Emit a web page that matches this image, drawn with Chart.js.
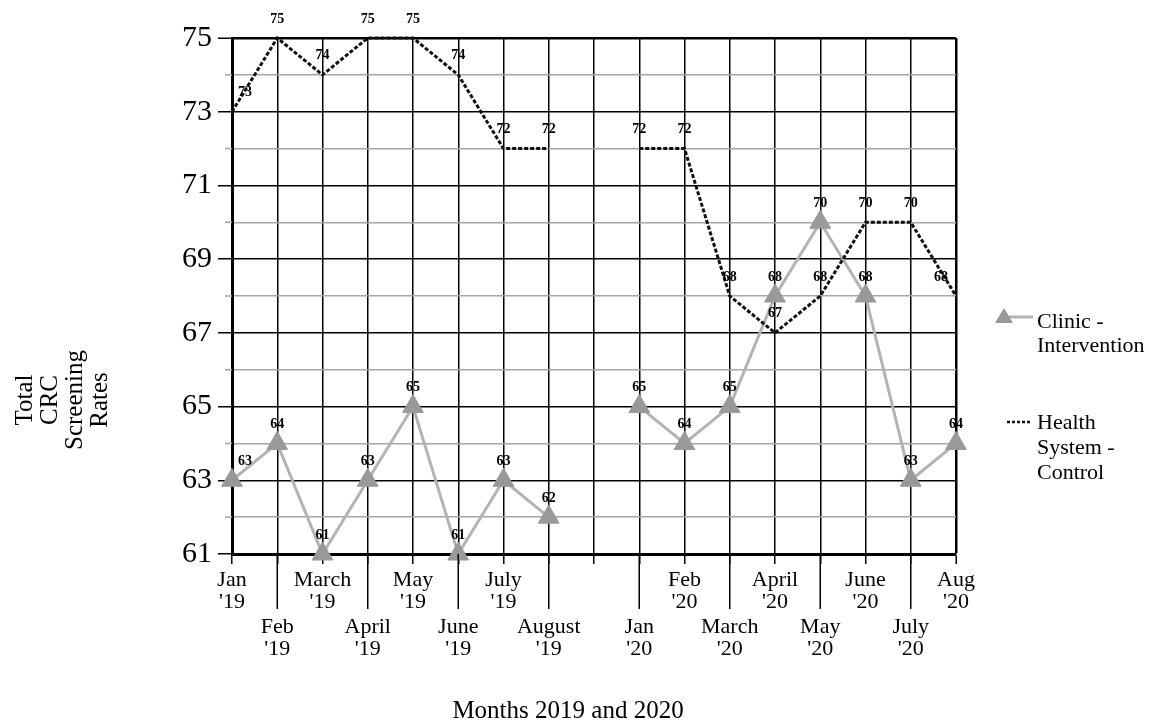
<!DOCTYPE html>
<html>
<head>
<meta charset="utf-8">
<script src="https://cdn.jsdelivr.net/npm/chart.js@4.4.1/dist/chart.umd.min.js"></script>
<style>
body{margin:0;background:#fff;}
#box{width:1149px;height:721px;}
</style>
</head>
<body>
<div id="box"><canvas id="chart" width="1149" height="721"></canvas></div>
<script>
// data
const months = ['Jan','Feb','March','April','May','June','July','August','','Jan','Feb','March','April','May','June','July','Aug'];
const years = ["'19","'19","'19","'19","'19","'19","'19","'19",'',"'20","'20","'20","'20","'20","'20","'20","'20"];
const clinic = [63,64,61,63,65,61,63,62,null,65,64,65,68,70,68,63,64];
const health = [73,75,74,75,75,74,72,72,null,72,72,68,67,68,70,70,68];
const clinicName = ['Clinic -','Intervention'];
const healthName = ['Health','System -','Control'];
const yTitle = ['Total','CRC','Screening','Rates'];
const xTitle = 'Months 2019 and 2020';

const SERIF = '"Liberation Serif", "Times New Roman", serif';
const categories = months.map((m,i)=> (m+' '+years[i]).trim());

function txt(ctx, s, x, y, font, align){
  ctx.font = font; ctx.textAlign = align || 'center'; ctx.textBaseline = 'middle';
  ctx.fillStyle = '#000'; ctx.fillText(s, x, y);
}

// labels, long ticks, titles and legend
const extras = {
  id:'extras',
  afterDatasetsDraw(chart){
    const ctx = chart.ctx;
    ctx.save();
    chart.data.datasets.forEach((ds,d)=>{
      const meta = chart.getDatasetMeta(d);
      meta.data.forEach((pt,i)=>{
        const v = ds.data[i];
        if(v==null) return;
        let dx = 0;
        if(i===0) dx = 13;
        if(d===0 && i===ds.data.length-1) dx = -15;
        txt(ctx, String(v), pt.x+dx, pt.y-19, 'bold 14px '+SERIF);
      });
    });
    ctx.restore();
  },
  afterDraw(chart){
    const ctx = chart.ctx, xs = chart.scales.x, ys = chart.scales.y, area = chart.chartArea;
    ctx.save();
    // short ticks for the grey (even) grid lines
    ctx.strokeStyle='#a6a6a6'; ctx.lineWidth=1.5;
    for(let v=62; v<75; v+=2){
      const y = ys.getPixelForValue(v);
      ctx.beginPath(); ctx.moveTo(area.left-7, y); ctx.lineTo(area.left, y); ctx.stroke();
    }
    // long ticks under every second month + month labels
    months.forEach((m,i)=>{
      const x = xs.getPixelForValue(i);
      if(i%2){
        ctx.strokeStyle='#000'; ctx.lineWidth=1.5;
        ctx.beginPath(); ctx.moveTo(x, area.bottom); ctx.lineTo(x, 609); ctx.stroke();
      }
      const y0 = i%2 ? 627 : 580;
      txt(ctx, m, x, y0, '22px '+SERIF);
      txt(ctx, years[i], x, y0+22, '22px '+SERIF);
    });
    // axis titles
    yTitle.forEach((s,j)=>{
      ctx.save();
      ctx.translate(25+25*j, 400);
      ctx.rotate(-Math.PI/2);
      txt(ctx, s, 0, 0, '25px '+SERIF);
      ctx.restore();
    });
    txt(ctx, xTitle, 568, 711, '25px '+SERIF);
    // legend
    ctx.strokeStyle='#b3b3b3'; ctx.lineWidth=3;
    ctx.beginPath(); ctx.moveTo(1004,317); ctx.lineTo(1033,317); ctx.stroke();
    ctx.fillStyle='#999';
    ctx.beginPath(); ctx.moveTo(1004,308); ctx.lineTo(1013,323); ctx.lineTo(995,323); ctx.closePath(); ctx.fill();
    clinicName.forEach((s,j)=>txt(ctx, s, 1037, 322+24*j, '22px '+SERIF, 'left'));
    ctx.strokeStyle='#111'; ctx.lineWidth=2.5; ctx.setLineDash([3,2]);
    ctx.beginPath(); ctx.moveTo(1007,422); ctx.lineTo(1032,422); ctx.stroke();
    ctx.setLineDash([]);
    healthName.forEach((s,j)=>txt(ctx, s, 1037, 423+25*j, '22px '+SERIF, 'left'));
    ctx.restore();
  }
};

const ctx = document.getElementById('chart').getContext('2d');
const chart = new Chart(ctx,{
  type:'line',
  data:{labels:categories, datasets:[
    {label:'Health System - Control', data:health, borderColor:'#111', borderWidth:3, borderDash:[4,2],
     pointRadius:0, pointHoverRadius:0, spanGaps:false, clip:false, order:0, tension:0},
    {label:'Clinic - Intervention', data:clinic, borderColor:'#b3b3b3', borderWidth:3,
     pointStyle:'triangle', pointRadius:12, pointBackgroundColor:'#999', pointBorderColor:'#999', pointBorderWidth:1,
     spanGaps:false, clip:false, order:1, tension:0}
  ]},
  options:{
    responsive:false, animation:false,
    layout:{padding:{top:38, right:193, left:0, bottom:0}},
    plugins:{legend:{display:false}, tooltip:{enabled:false}},
    scales:{
      x:{
        offset:false,
        afterFit:s=>{ s.height = 721-554; },
        ticks:{display:false},
        grid:{color:'#000', lineWidth:c=>c.index===16?2.5:1.5, tickLength:10, tickColor:'#000', tickWidth:1.5},
        border:{color:'#000', width:3}
      },
      y:{
        min:61, max:75,
        afterFit:s=>{ s.width = 232; },
        ticks:{stepSize:1, autoSkip:false, color:'#000', padding:6, font:{family:SERIF, size:30},
               callback:v=> v%2 ? v : ''},
        grid:{color:c=>c.tick && c.tick.value%2 ? '#000' : '#a6a6a6',
              lineWidth:c=>c.tick && c.tick.value===75 ? 2.5 : 1.5,
              tickColor:c=>c.tick && c.tick.value%2 ? '#000' : 'transparent', tickLength:14, tickWidth:1.5},
        border:{color:'#000', width:3}
      }
    }
  },
  plugins:[extras]
});
</script>
</body>
</html>
